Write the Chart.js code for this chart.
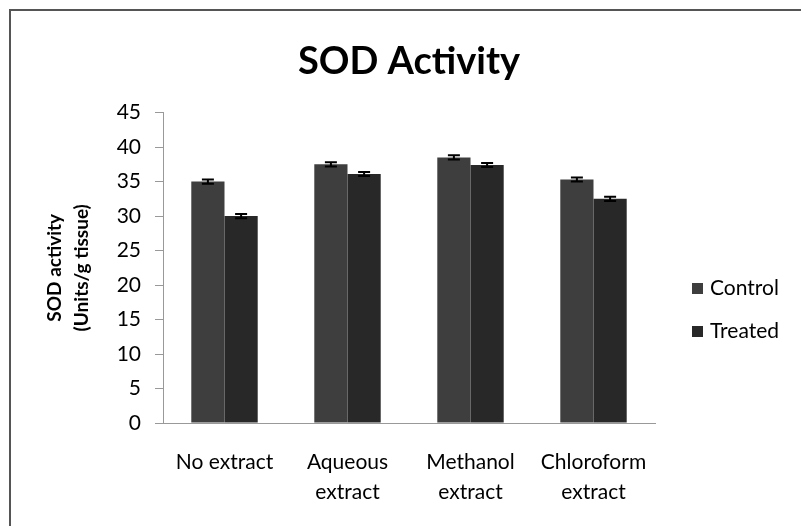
<!DOCTYPE html>
<html>
<head>
<meta charset="utf-8">
<script src="https://cdn.jsdelivr.net/npm/chart.js@4/dist/chart.umd.min.js"></script>
<style>
  html, body { margin: 0; padding: 0; background: #fff; }
  #wrap { position: relative; width: 801px; height: 526px; }
  #frame { position: absolute; left: 9px; top: 9px; right: -5px; bottom: -5px;
           border-left: 2px solid #555; border-top: 2px solid #555; }
  canvas { position: absolute; left: 0; top: 0; }
</style>
</head>
<body>
<div id="wrap">
  <div id="frame"></div>
  <canvas id="sodChart" width="801" height="526"></canvas>
</div>
<script>
// --- data ---
const categories = [['No extract'], ['Aqueous', 'extract'], ['Methanol', 'extract'], ['Chloroform', 'extract']];
const seriesNames = ['Control', 'Treated'];
const controlVals = [35.0, 37.5, 38.5, 35.3];
const treatedVals = [30.0, 36.1, 37.4, 32.5];
const controlErr = [0.3, 0.3, 0.3, 0.3];
const treatedErr = [0.3, 0.3, 0.3, 0.3];
const yTicks = [0, 5, 10, 15, 20, 25, 30, 35, 40, 45];

const FONT = 'Lato, "Liberation Sans", sans-serif';
const barColors = ['#3e3e3e', '#282828'];

// small error bars on top of each bar
const errorBars = {
    id: 'errorBars',
    afterDatasetsDraw(chart) {
        const ctx = chart.ctx;
        const y = chart.scales.y;
        chart.data.datasets.forEach((ds, i) => {
            const meta = chart.getDatasetMeta(i);
            meta.data.forEach((bar, j) => {
                const v = ds.data[j], e = ds.errors[j];
                const top = y.getPixelForValue(v + e);
                const bot = y.getPixelForValue(v - e);
                ctx.save();
                ctx.strokeStyle = '#000';
                ctx.lineWidth = 2;
                ctx.beginPath();
                ctx.moveTo(bar.x, top); ctx.lineTo(bar.x, bot);
                ctx.moveTo(bar.x - 6, top); ctx.lineTo(bar.x + 6, top);
                ctx.moveTo(bar.x - 6, bot); ctx.lineTo(bar.x + 6, bot);
                ctx.stroke();
                ctx.restore();
            });
        });
    }
};

// legend drawn at the right side, like the original
const sideLegend = {
    id: 'sideLegend',
    afterDraw(chart) {
        const ctx = chart.ctx;
        const x0 = chart.chartArea.right + 37;
        const rows = [288, 331];
        ctx.save();
        ctx.font = '21px ' + FONT;
        ctx.textBaseline = 'middle';
        chart.data.datasets.forEach((ds, i) => {
            ctx.fillStyle = ds.backgroundColor;
            ctx.fillRect(x0, rows[i] - 5, 11, 11);
            ctx.fillStyle = '#000';
            ctx.fillText(ds.label, x0 + 18, rows[i]);
        });
        ctx.restore();
    }
};

new Chart(document.getElementById('sodChart'), {
    type: 'bar',
    data: {
        labels: categories,
        datasets: [
            { label: seriesNames[0], data: controlVals, errors: controlErr, backgroundColor: barColors[0] },
            { label: seriesNames[1], data: treatedVals, errors: treatedErr, backgroundColor: barColors[1] }
        ]
    },
    options: {
        responsive: false,
        animation: false,
        layout: { padding: { left: 10, right: 146, top: 0, bottom: 0 } },
        datasets: { bar: { barPercentage: 1, categoryPercentage: 0.54 } },
        plugins: {
            legend: { display: false },
            tooltip: { enabled: false },
            title: {
                display: true,
                fullSize: false,
                text: 'SOD Activity',
                color: '#000',
                font: { family: FONT, size: 38, weight: 'bold', lineHeight: 1.2 },
                padding: { top: 39, bottom: 28 }
            }
        },
        scales: {
            x: {
                grid: { display: false, drawTicks: false },
                border: { color: '#999', width: 1 },
                ticks: { color: '#000', padding: 25, font: { family: FONT, size: 21, lineHeight: 1.4 } },
                afterFit(scale) { scale.height = 103; }
            },
            y: {
                min: 0, max: 45,
                afterBuildTicks(scale) { scale.ticks = yTicks.map(v => ({ value: v })); },
                grid: { drawOnChartArea: false, drawTicks: true, tickLength: 8, color: '#999' },
                border: { color: '#999', width: 1 },
                ticks: { color: '#000', padding: 14, font: { family: FONT, size: 21 } },
                title: {
                    display: true,
                    text: ['SOD activity', '(Units/g tissue)'],
                    color: '#000',
                    font: { family: FONT, size: 19, weight: 'bold', lineHeight: 1.45 },
                    padding: { top: 31, bottom: 0 }
                },
                afterFit(scale) { scale.width = 153; }
            }
        }
    },
    plugins: [errorBars, sideLegend]
});
</script>
</body>
</html>
